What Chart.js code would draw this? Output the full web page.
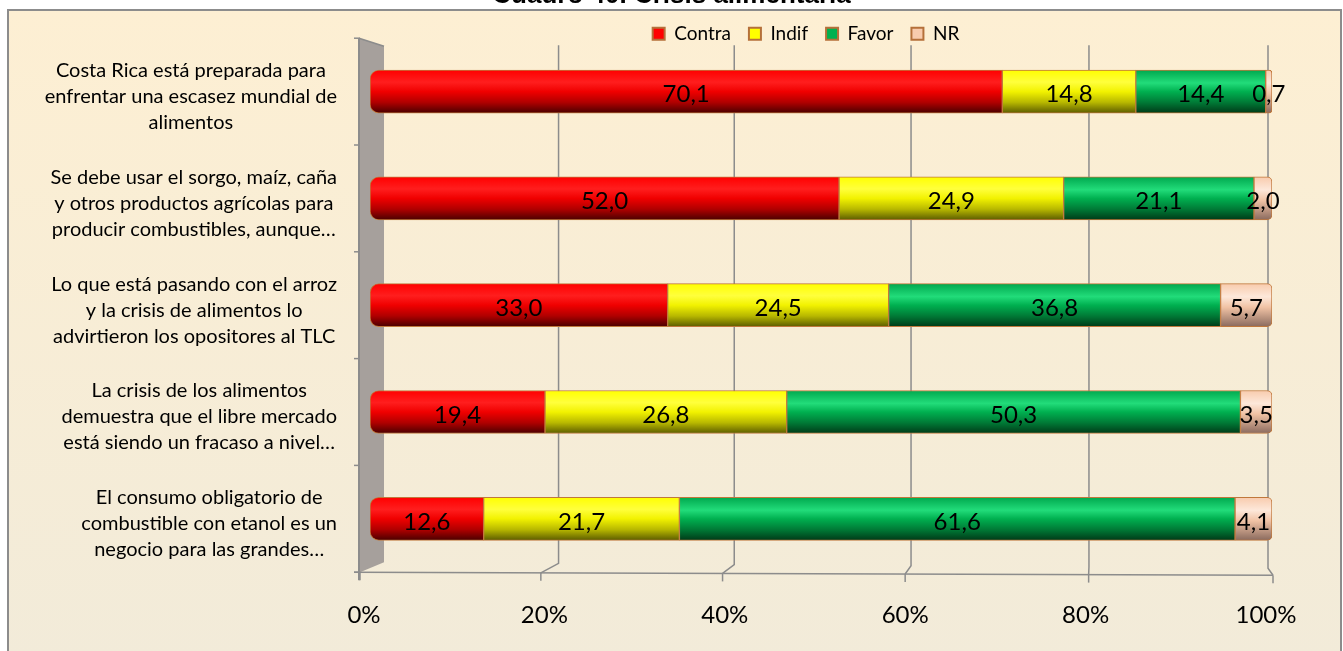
<!DOCTYPE html>
<html>
<head>
<meta charset="utf-8">
<script src="https://cdn.jsdelivr.net/npm/chart.js@4.4.1/dist/chart.umd.min.js"></script>
<style>
  html, body { margin: 0; padding: 0; background: #fff; overflow: hidden; }
  #wrap { position: absolute; left: 0; top: -20px; width: 1343px; height: 679px; }
</style>
</head>
<body>
<div id="wrap"><canvas id="chart"></canvas></div>
<script>
// Survey answers, percent of respondents per statement
const categories = [
  ['Costa Rica está preparada para', 'enfrentar una escasez mundial de', 'alimentos'],
  ['Se debe usar el sorgo, maíz, caña', 'y otros productos agrícolas para', 'producir combustibles, aunque…'],
  ['Lo que está pasando con el arroz', 'y la crisis de alimentos lo', 'advirtieron los opositores al TLC'],
  ['La crisis de los alimentos', 'demuestra que el libre mercado', 'está siendo un fracaso a nivel…'],
  ['El consumo obligatorio de', 'combustible con etanol es un', 'negocio para las grandes…']
];
const contra = [70.1, 52.0, 33.0, 19.4, 12.6];
const indif = [14.8, 24.9, 24.5, 26.8, 21.7];
const favor = [14.4, 21.1, 36.8, 50.3, 61.6];
const nr = [0.7, 2.0, 5.7, 3.5, 4.1];
const xTicks = [0, 20, 40, 60, 80, 100];

const BAR_H = 43;
const EDGE = '#c0783c';

// cylinder look: vertical gradient across each bar
function tube(stops) {
  return (c) => {
    const chart = c.chart;
    const y = chart.scales && chart.scales.y;
    if (!chart.chartArea || !y || c.dataIndex === undefined) return stops[0][1];
    const mid = y.getPixelForValue(c.dataIndex);
    const g = chart.ctx.createLinearGradient(0, mid - BAR_H / 2, 0, mid + BAR_H / 2);
    stops.forEach(([o, col]) => g.addColorStop(o, col));
    return g;
  };
}

const redTube = tube([[0, '#ff0000'], [0.28, '#ff1e1e'], [0.5, '#f00000'], [0.75, '#b00000'], [1, '#4a0000']]);
const yellowTube = tube([[0, '#ffff00'], [0.28, '#ffff3c'], [0.5, '#f2f200'], [0.75, '#b8b800'], [1, '#5c5c00']]);
const greenTube = tube([[0, '#00a84e'], [0.3, '#22dc7a'], [0.5, '#00b050'], [0.75, '#007a36'], [1, '#003a18']]);
const peachTube = tube([[0, '#f8cbad'], [0.3, '#fde8da'], [0.55, '#f0c2a4'], [1, '#8a6a5e']]);

const legendFill = ['#ff0000', '#ffff00', '#00b050', '#f8cbad'];

const backdrop = {
  id: 'backdrop',
  beforeDraw(chart) {
    const { ctx, width, height } = chart;
    ctx.save();
    ctx.fillStyle = '#fff';
    ctx.fillRect(0, 0, width, height);
    const top = 30, left = 8, right = width - 2;
    const g = ctx.createLinearGradient(0, top, 0, height);
    g.addColorStop(0, '#fdefd3');
    g.addColorStop(1, '#f2ebd9');
    ctx.fillStyle = g;
    ctx.fillRect(left, top, right - left, height - top + 5);
    ctx.strokeStyle = '#8c8c8c';
    ctx.lineWidth = 2;
    ctx.strokeRect(left, top, right - left, height - top + 10);
    ctx.restore();
  },
  // legend sits down inside the plot's top margin
  afterLayout(chart) {
    const l = chart.legend;
    l.top += 15; l.bottom += 15;
    l.left -= 15; l.right -= 15;
  }
};

// side wall, back grid and front axis drawn with a slight perspective
const frame3d = {
  id: 'frame3d',
  beforeDatasetsDraw(chart) {
    const { ctx, chartArea: a, scales: { x, y } } = chart;
    const backX = v => x.getPixelForValue(v) + 14 * Math.pow(1 - v / 100, 2) - 4 * v / 100;
    const frontX = v => x.getPixelForValue(v) - 10 + 11 * Math.pow(v / 100, 2);
    const backTop = a.top + 7;
    const backBottom = v => a.bottom - 10 + 6 * v / 100;
    const frontY = v => a.bottom + 3 * v / 100;
    ctx.save();

    ctx.fillStyle = '#a6a09c';
    ctx.beginPath();
    ctx.moveTo(frontX(0) - 1, a.top);
    ctx.lineTo(backX(0), backTop + 1);
    ctx.lineTo(backX(0), backBottom(0));
    ctx.lineTo(frontX(0), a.bottom);
    ctx.closePath();
    ctx.fill();

    ctx.strokeStyle = '#8c8c8c';
    ctx.lineWidth = 1.5;
    ctx.beginPath();
    ctx.moveTo(frontX(0) - 1, a.top);
    ctx.lineTo(backX(0), backTop + 1);
    ctx.stroke();

    ctx.lineWidth = 2;
    ctx.beginPath();
    ctx.moveTo(frontX(0) - 1, a.top);
    ctx.lineTo(frontX(0) - 1, a.bottom + 8);
    ctx.stroke();

    // category ticks on the wall edge
    const band = y.getPixelForValue(1) - y.getPixelForValue(0);
    ctx.lineWidth = 1.5;
    for (let i = 0; i <= categories.length; i++) {
      const yy = y.getPixelForValue(i) - band / 2;
      ctx.beginPath();
      ctx.moveTo(frontX(0) - 6, yy);
      ctx.lineTo(frontX(0), yy);
      ctx.stroke();
    }

    xTicks.forEach(v => {
      if (v > 0) {
        ctx.beginPath();
        ctx.moveTo(backX(v), backTop);
        ctx.lineTo(backX(v), backBottom(v));
        ctx.lineTo(frontX(v), frontY(v));
        ctx.stroke();
      }
      ctx.beginPath();
      ctx.moveTo(frontX(v), frontY(v));
      ctx.lineTo(frontX(v), frontY(v) + 8);
      ctx.stroke();
    });

    ctx.beginPath();
    ctx.moveTo(frontX(0) - 6, a.bottom);
    ctx.lineTo(frontX(100), frontY(100));
    ctx.stroke();
    ctx.restore();
  }
};

const valueLabels = {
  id: 'valueLabels',
  afterDatasetsDraw(chart) {
    const { ctx } = chart;
    ctx.save();
    ctx.font = '24px Lato';
    ctx.fillStyle = '#000';
    ctx.textAlign = 'center';
    ctx.textBaseline = 'middle';
    chart.data.datasets.forEach((ds, di) => {
      chart.getDatasetMeta(di).data.forEach((bar, i) => {
        const txt = ds.data[i].toFixed(1).replace('.', ',');
        ctx.fillText(txt, (bar.x + bar.base) / 2, bar.y + 3);
      });
    });
    ctx.restore();
  }
};

// statement labels: lines centred in a block right-aligned to the wall
const categoryLabels = {
  id: 'categoryLabels',
  afterDraw(chart) {
    const { ctx, chartArea: a, scales: { y } } = chart;
    ctx.save();
    ctx.font = '20px Lato';
    ctx.fillStyle = '#000';
    ctx.textAlign = 'center';
    ctx.textBaseline = 'middle';
    categories.forEach((lines, i) => {
      const cy = y.getPixelForValue(i) + 5;
      const w = Math.max(...lines.map(l => ctx.measureText(l).width));
      const cx = a.left - 33 - w / 2;
      lines.forEach((l, k) => ctx.fillText(l, cx, cy + (k - (lines.length - 1) / 2) * 26));
    });
    ctx.restore();
  }
};

function dataset(label, data, bg, radius) {
  return {
    label, data,
    backgroundColor: bg,
    borderColor: EDGE,
    borderWidth: 1,
    borderSkipped: false,
    borderRadius: radius,
    barThickness: BAR_H
  };
}

new Chart(document.getElementById('chart'), {
  type: 'bar',
  data: {
    labels: categories,
    datasets: [
      dataset('Contra', contra, redTube, { topLeft: 9, bottomLeft: 9 }),
      dataset('Indif', indif, yellowTube, 0),
      dataset('Favor', favor, greenTube, 0),
      dataset('NR', nr, peachTube, { topRight: 5, bottomRight: 5 })
    ]
  },
  options: {
    indexAxis: 'y',
    responsive: true,
    maintainAspectRatio: false,
    devicePixelRatio: 1,
    animation: false,
    layout: { padding: 0 },
    scales: {
      x: {
        stacked: true,
        min: 0,
        max: 100,
        afterBuildTicks: s => { s.ticks = xTicks.map(v => ({ value: v })); },
        ticks: {
          callback: v => v + '%',
          font: { family: 'Lato', size: 24 },
          color: '#000',
          padding: 29,
          labelOffset: -6,
          autoSkip: false,
          maxRotation: 0
        },
        grid: { display: false, drawTicks: false },
        border: { display: false }
      },
      y: {
        stacked: true,
        ticks: { display: false },
        grid: { display: false, drawTicks: false },
        border: { display: false },
        afterFit: s => { s.width = 370; }
      },
      yRight: {
        type: 'linear',
        position: 'right',
        ticks: { display: false },
        grid: { display: false, drawTicks: false },
        border: { display: false },
        afterFit: s => { s.width = 71; }
      }
    },
    plugins: {
      title: {
        display: true,
        text: 'Cuadro 40. Crisis alimentaria',
        font: { family: 'Liberation Sans', size: 26, weight: 'bold' },
        color: '#000',
        padding: { top: 0, bottom: -20 }
      },
      legend: {
        position: 'top',
        fullSize: false,
        labels: {
          font: { family: 'Lato', size: 19 },
          color: '#000',
          boxWidth: 12,
          boxHeight: 12,
          padding: 18,
          generateLabels: chart => chart.data.datasets.map((ds, i) => ({
            text: ds.label,
            fillStyle: legendFill[i],
            strokeStyle: '#b5703a',
            lineWidth: 2,
            fontColor: '#000',
            hidden: false,
            datasetIndex: i
          }))
        }
      },
      tooltip: { enabled: false }
    }
  },
  plugins: [backdrop, frame3d, valueLabels, categoryLabels]
});
</script>
</body>
</html>
